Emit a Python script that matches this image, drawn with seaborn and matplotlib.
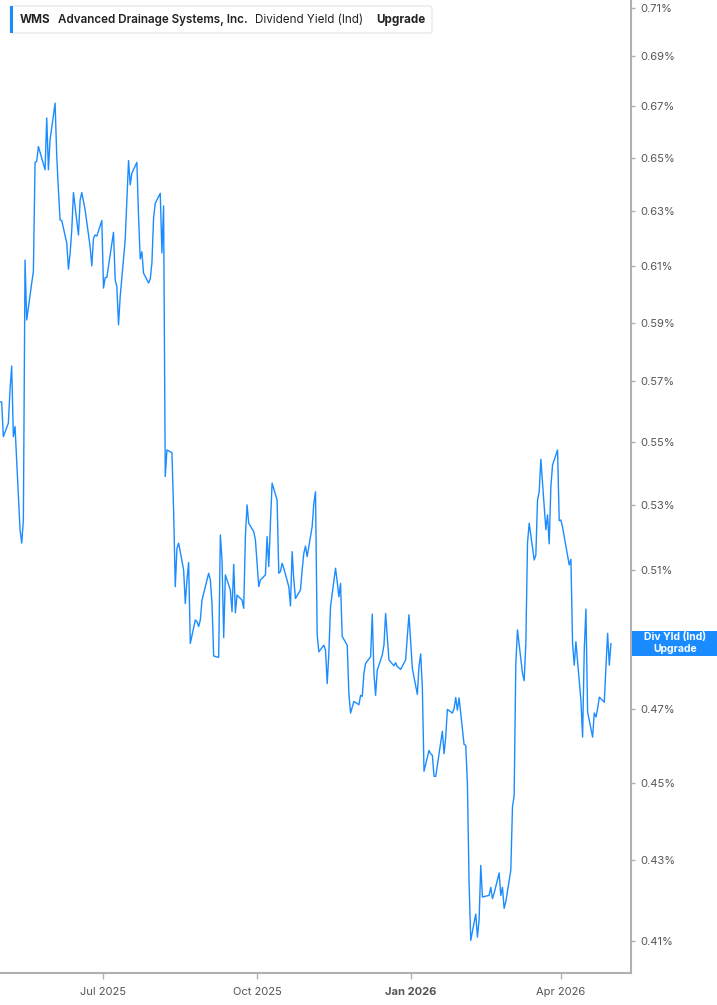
import numpy as np
import pandas as pd
import seaborn as sns
import matplotlib.pyplot as plt
import matplotlib.ticker as ticker
import matplotlib.dates as mdates
from matplotlib.patches import FancyBboxPatch, Rectangle

# daily dividend yield (%), May 2025 -> Apr 2026
div_yield = [
    0.5631, 0.5631, 0.5517, 0.5561, 0.5671, 0.5751, 0.5517, 0.5550, 0.5223, 0.5182,
    0.5253, 0.6121, 0.5909, 0.6039, 0.6080, 0.6483, 0.6487, 0.6544, 0.6455, 0.6655,
    0.6455, 0.6570, 0.6713, 0.6506, 0.6379, 0.6267, 0.6265, 0.6182, 0.6088, 0.6145,
    0.6231, 0.6369, 0.6212, 0.6341, 0.6369, 0.6304, 0.6169, 0.6100, 0.6200, 0.6212,
    0.6208, 0.6265, 0.6021, 0.6058, 0.6059, 0.6222, 0.6050, 0.6026, 0.5892, 0.5991,
    0.6194, 0.6341, 0.6490, 0.6398, 0.6442, 0.6483, 0.6280, 0.6125, 0.6151, 0.6074,
    0.6039, 0.6053, 0.6110, 0.6274, 0.6329, 0.6366, 0.6147, 0.6319, 0.5389, 0.5474,
    0.5465, 0.5284, 0.5051, 0.5166, 0.5182, 0.5101, 0.5001, 0.5071, 0.5123, 0.4885,
    0.4953, 0.4948, 0.4934, 0.4953, 0.5011, 0.5091, 0.5071, 0.5001, 0.4849, 0.4845,
    0.5207, 0.5131, 0.4902, 0.5086, 0.5041, 0.4977, 0.5118, 0.4974, 0.5026, 0.5011,
    0.4987, 0.5202, 0.5300, 0.5243, 0.5217, 0.5192, 0.5121, 0.5051, 0.5071, 0.5086,
    0.5202, 0.5111, 0.5243, 0.5368, 0.5315, 0.5091, 0.5096, 0.5121, 0.5106, 0.5051,
    0.4994, 0.5156, 0.5071, 0.5016, 0.5041, 0.5101, 0.5151, 0.5173, 0.5141, 0.5233,
    0.5305, 0.5341, 0.4910, 0.4861, 0.4880, 0.4866, 0.4771, 0.4857, 0.4992, 0.5106,
    0.5066, 0.5021, 0.5061, 0.4905, 0.4880, 0.4743, 0.4689, 0.4721, 0.4712, 0.4738,
    0.4735, 0.4800, 0.4828, 0.4847, 0.4970, 0.4800, 0.4738, 0.4809, 0.4852, 0.4880,
    0.4972, 0.4905, 0.4838, 0.4821, 0.4830, 0.4819, 0.4811, 0.4838, 0.4905, 0.4968,
    0.4814, 0.4741, 0.4819, 0.4855, 0.4762, 0.4531, 0.4587, 0.4578, 0.4574, 0.4518,
    0.4517, 0.4639, 0.4578, 0.4623, 0.4699, 0.4689, 0.4701, 0.4732, 0.4697, 0.4731,
    0.4603, 0.4601, 0.4498, 0.4242, 0.4102, 0.4166, 0.4110, 0.4151, 0.4287, 0.4208,
    0.4212, 0.4232, 0.4204, 0.4217, 0.4268, 0.4212, 0.4232, 0.4180, 0.4196, 0.4275,
    0.4437, 0.4467, 0.4828, 0.4924, 0.4800, 0.4779, 0.4885, 0.5182, 0.5243, 0.5131,
    0.5146, 0.5315, 0.5341, 0.5444, 0.5223, 0.5269, 0.5180, 0.5357, 0.5426, 0.5474,
    0.5251, 0.5253, 0.5231, 0.5116, 0.5133, 0.4885, 0.4823, 0.4890, 0.4724, 0.4623,
    0.4866, 0.4985, 0.4692, 0.4623, 0.4689, 0.4678, 0.4701, 0.4733, 0.4719, 0.4819,
    0.4914, 0.4823, 0.4885,
]
market_holidays = ["2025-05-26", "2025-06-19", "2025-07-04", "2025-09-01", "2025-11-27",
                   "2025-12-25", "2026-01-01", "2026-01-19", "2026-02-16", "2026-04-03"]
dates = pd.bdate_range(end="2026-05-01", periods=len(div_yield), freq="C",
                       holidays=market_holidays)

ytick_vals = [0.41, 0.43, 0.45, 0.47, 0.49, 0.51, 0.53, 0.55, 0.57, 0.59, 0.61,
              0.63, 0.65, 0.67, 0.69, 0.71]
hidden_tick = 0.49  # sits under the last-value flag
xtick_dates = ["2025-07-01", "2025-10-01", "2026-01-01", "2026-04-01"]
xtick_labels = ["Jul 2025", "Oct 2025", "Jan 2026", "Apr 2026"]

line_col = "#1a8cff"
W, H = 717, 1005


def fx(x):
    return x / W


def fy(y):
    return 1 - y / H


def pct_fmt(v, p):
    if abs(v - hidden_tick) < 1e-6:
        return ""
    return f"{v:.2f}%"


sns.set_style("white")
plt.rcParams["font.family"] = ["Inter", "DejaVu Sans"]

fig = plt.figure(figsize=(W / 100, H / 100), dpi=100)
ax = fig.add_axes([0, 1 - 973 / H, 631 / W, 973 / H])

df = pd.DataFrame({"date": dates, "dy": div_yield})
sns.lineplot(data=df, x="date", y="dy", color=line_col, lw=1.0, ax=ax)

ax.set_yscale("log")
ax.set_ylim(0.4024, 0.7133)
ax.set_xlim(dates[0], pd.Timestamp("2026-05-13"))
ax.set_xlabel("")
ax.set_ylabel("")

ax.yaxis.tick_right()
ax.yaxis.set_major_locator(ticker.FixedLocator(ytick_vals))
ax.yaxis.set_major_formatter(ticker.FuncFormatter(pct_fmt))
ax.yaxis.set_minor_locator(ticker.NullLocator())

ax.set_xticks(pd.to_datetime(xtick_dates))
ax.set_xticklabels(xtick_labels)
ax.get_xticklabels()[2].set_fontweight("bold")
ax.get_xticklabels()[2].set_fontsize(9.5)

for s in ("left", "top"):
    ax.spines[s].set_visible(False)
for s in ("right", "bottom"):
    ax.spines[s].set_color("#b0b0b0")
    ax.spines[s].set_linewidth(1.5)

ax.tick_params(axis="y", right=True, left=False, length=3, width=1, color="#b0b0b0",
               labelsize=8, labelcolor="#555555", pad=4)
ax.tick_params(axis="x", bottom=True, length=4, width=1, color="#b0b0b0",
               labelsize=8, labelcolor="#555555", pad=6)
ax.grid(False)

# last-value flag on the right axis
fig.canvas.draw()
yd = ax.transData.transform((mdates.date2num(dates[-1]), div_yield[-1]))[1] / H
fig.patches.append(Rectangle((fx(632), yd - 12.5 / H), fx(85), 25 / H,
                             transform=fig.transFigure, fc=line_col, ec="none", zorder=5))
fig.text(fx(675), yd + 6 / H, "Div Yld (Ind)", color="white", fontsize=7.5,
         fontweight="bold", ha="center", va="center", zorder=6)
fig.text(fx(675), yd - 6 / H, "Upgrade", color="white", fontsize=7.5,
         fontweight="bold", ha="center", va="center", zorder=6)

# legend box at top left
fig.patches.append(FancyBboxPatch((fx(10), fy(33)), fx(422), 27 / H,
                                  boxstyle="round,pad=0,rounding_size=0.003",
                                  transform=fig.transFigure, fc="white", ec="#e4e4e4",
                                  lw=0.8, zorder=5))
fig.patches.append(Rectangle((fx(10), fy(33)), fx(3), 27 / H, transform=fig.transFigure,
                             fc=line_col, ec="none", zorder=6))
leg_fs = 8.4
fig.text(fx(20), fy(20), "WMS", fontsize=leg_fs, fontweight="bold", color="#222222",
         va="center", zorder=7)
fig.text(fx(58), fy(20), "Advanced Drainage Systems, Inc.", fontsize=leg_fs,
         fontweight="semibold", color="#222222", va="center", zorder=7)
fig.text(fx(255), fy(20), "Dividend Yield (Ind)", fontsize=leg_fs, color="#222222",
         va="center", zorder=7)
fig.text(fx(376), fy(20), "Upgrade", fontsize=leg_fs, fontweight="bold", color="#222222",
         va="center", zorder=7)

fig.savefig("out.png", dpi=100)
